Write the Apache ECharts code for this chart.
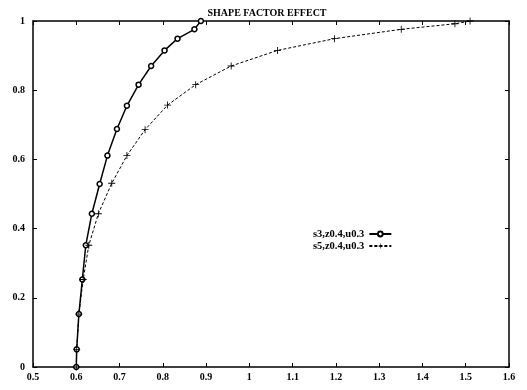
<!DOCTYPE html>
<html><head><meta charset="utf-8">
<script src="https://cdn.jsdelivr.net/npm/echarts@6/dist/echarts.min.js"></script>
<style>html,body{margin:0;padding:0;background:#fff}#c{width:527px;height:390px}</style>
</head><body><div id="c"></div>
<script>
const titleText = "SHAPE FACTOR EFFECT";
const seriesNames = ["s3,z0.4,u0.3", "s5,z0.4,u0.3"];
const s3x = [0.600,0.601,0.606,0.614,0.622,0.636,0.654,0.672,0.694,0.717,0.744,0.773,0.804,0.834,0.873,0.888];
const s3y = [0.000,0.051,0.153,0.253,0.352,0.443,0.529,0.611,0.688,0.755,0.816,0.870,0.915,0.949,0.976,1.000];
const s5x = [0.600,0.601,0.606,0.616,0.629,0.651,0.682,0.717,0.759,0.811,0.876,0.958,1.065,1.197,1.351,1.475,1.510];
const s5y = [0.000,0.051,0.153,0.253,0.352,0.443,0.531,0.611,0.686,0.757,0.816,0.870,0.915,0.949,0.976,0.992,1.000];
const xTicks = [0.5,0.6,0.7,0.8,0.9,1,1.1,1.2,1.3,1.4,1.5,1.6];
const yTicks = [0,0.2,0.4,0.6,0.8,1];

const font = "Liberation Serif";
const pair = (xs, ys) => xs.map((v, i) => [v, ys[i]]);
const plusPath = 'path://M4.4,0H5.6V4.4H10V5.6H5.6V10H4.4V5.6H0V4.4H4.4Z';
const lbl = {fontFamily: font, fontSize: 10, fontWeight: 'bold', color: '#000'};

const chart = echarts.init(document.getElementById('c'));
chart.setOption({
  animation: false,
  backgroundColor: '#fff',
  title: {text: titleText, left: 262, textAlign: 'center', top: 3,
    textStyle: {fontFamily: font, fontSize: 10, fontWeight: 'bold', color: '#000'}},
  grid: {left: 33, right: 18, top: 21, bottom: 23},
  legend: {
    orient: 'vertical', left: 313, top: 228, align: 'right', padding: 0,
    itemWidth: 22, itemHeight: 6, itemGap: 0,
    textStyle: {fontFamily: font, fontSize: 10.5, lineHeight: 12, fontWeight: 'bold', color: '#000', padding: [0, 0, 0, 0]},
    data: seriesNames
  },
  xAxis: [{
    type: 'value', min: 0.5, max: 1.6, interval: 0.1,
    axisLine: {show: true, onZero: false, lineStyle: {color: '#000', width: 1.5}},
    axisTick: {show: true, inside: true, length: 4, lineStyle: {color: '#000'}},
    axisLabel: Object.assign({margin: 5, formatter: v => {
      const t = xTicks.find(a => Math.abs(a - v) < 1e-6); return t === undefined ? '' : String(t);
    }}, lbl),
    splitLine: {show: false}
  }, {
    type: 'value', position: 'top', min: 0.5, max: 1.6, interval: 0.1,
    axisLine: {show: true, onZero: false, lineStyle: {color: '#000', width: 1.5}},
    axisTick: {show: true, inside: true, length: 4, lineStyle: {color: '#000'}},
    axisLabel: {show: false}, splitLine: {show: false}
  }],
  yAxis: [{
    type: 'value', min: 0, max: 1, interval: 0.2,
    axisLine: {show: true, onZero: false, lineStyle: {color: '#000', width: 1.5}},
    axisTick: {show: true, inside: true, length: 4, lineStyle: {color: '#000'}},
    axisLabel: Object.assign({margin: 8, formatter: v => {
      const t = yTicks.find(a => Math.abs(a - v) < 1e-6); return t === undefined ? '' : String(t);
    }}, lbl),
    splitLine: {show: false}
  }, {
    type: 'value', position: 'right', min: 0, max: 1, interval: 0.2,
    axisLine: {show: true, onZero: false, lineStyle: {color: '#000', width: 1.5}},
    axisTick: {show: true, inside: true, length: 4, lineStyle: {color: '#000'}},
    axisLabel: {show: false}, splitLine: {show: false}
  }],
  series: [{
    name: seriesNames[0], type: 'line', data: pair(s3x, s3y),
    symbol: 'circle', symbolSize: 5, showSymbol: true,
    lineStyle: {color: '#000', width: 1.5},
    itemStyle: {color: '#fff', borderColor: '#000', borderWidth: 1.5}
  }, {
    name: seriesNames[1], type: 'line', data: pair(s5x, s5y),
    symbol: plusPath, symbolSize: 7, showSymbol: true,
    lineStyle: {color: '#000', width: 1, type: [3, 2]},
    itemStyle: {color: '#000'}
  }]
});
</script></body></html>
